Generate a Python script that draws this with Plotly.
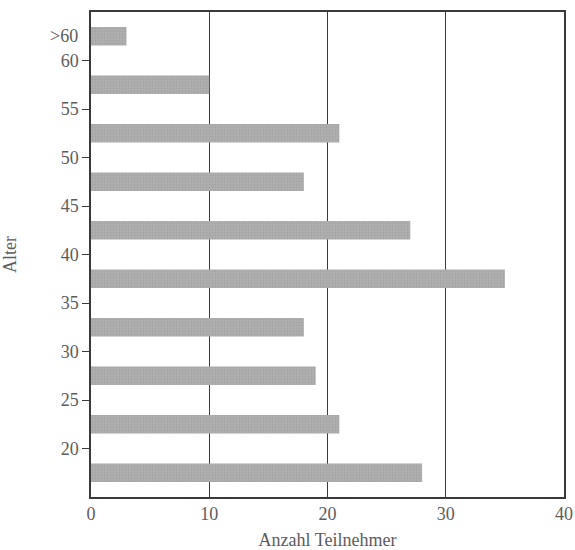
import plotly.graph_objects as go

# Age bins (lower edges), last bin is ">60"
age_lower = [15, 20, 25, 30, 35, 40, 45, 50, 55, 60]
participants = [28, 21, 19, 18, 35, 27, 18, 21, 10, 3]
y_tick_vals = [20, 25, 30, 35, 40, 45, 50, 55, 60]
y_tick_text = ["20", "25", "30", "35", "40", "45", "50", "55", "60"]
last_label = ">60"
x_tick_vals = [0, 10, 20, 30, 40]

centers = [a + 2.5 for a in age_lower]

font_fam = "Liberation Serif"
txt_col = "#5c5c5c"
line_col = "#3a3a3a"

fig = go.Figure()
fig.add_trace(go.Bar(
    x=participants,
    y=centers,
    orientation="h",
    width=1.9,
    marker=dict(color="#a8a8a8", line=dict(width=0),
                pattern=dict(shape=".", fgcolor="#999999", bgcolor="#aeaeae", size=3, solidity=0.3)),
    hoverinfo="skip",
))

fig.add_annotation(
    x=0, xref="paper", y=centers[-1], yref="y",
    text=last_label, showarrow=False, xanchor="right", xshift=-11,
    font=dict(family=font_fam, size=18, color=txt_col),
)

fig.update_layout(
    width=575, height=550,
    margin=dict(l=91, r=11, t=12, b=53),
    plot_bgcolor="white", paper_bgcolor="white",
    showlegend=False,
    font=dict(family=font_fam, size=18, color=txt_col),
    xaxis=dict(
        range=[0, 40], tickvals=x_tick_vals, automargin=False,
        ticklabeloverflow="allow",
        showgrid=True, gridcolor=line_col, gridwidth=1,
        showline=True, linecolor=line_col, linewidth=1.5, mirror=True,
        ticks="", zeroline=False,
        title=dict(text="Anzahl Teilnehmer", font=dict(family=font_fam, size=18, color=txt_col), standoff=17),
    ),
    yaxis=dict(
        range=[15, 65], tickvals=y_tick_vals, ticktext=y_tick_text, automargin=False,
        showgrid=False, zeroline=False,
        showline=True, linecolor=line_col, linewidth=1.5, mirror=True,
        ticks="outside", ticklen=7, tickcolor=line_col, tickwidth=1.2,
        title=dict(text="Alter", font=dict(family=font_fam, size=18, color=txt_col), standoff=46),
    ),
)

fig.write_html("out.html", config={"displayModeBar": False},
               post_script="document.body.style.margin='0px';")
